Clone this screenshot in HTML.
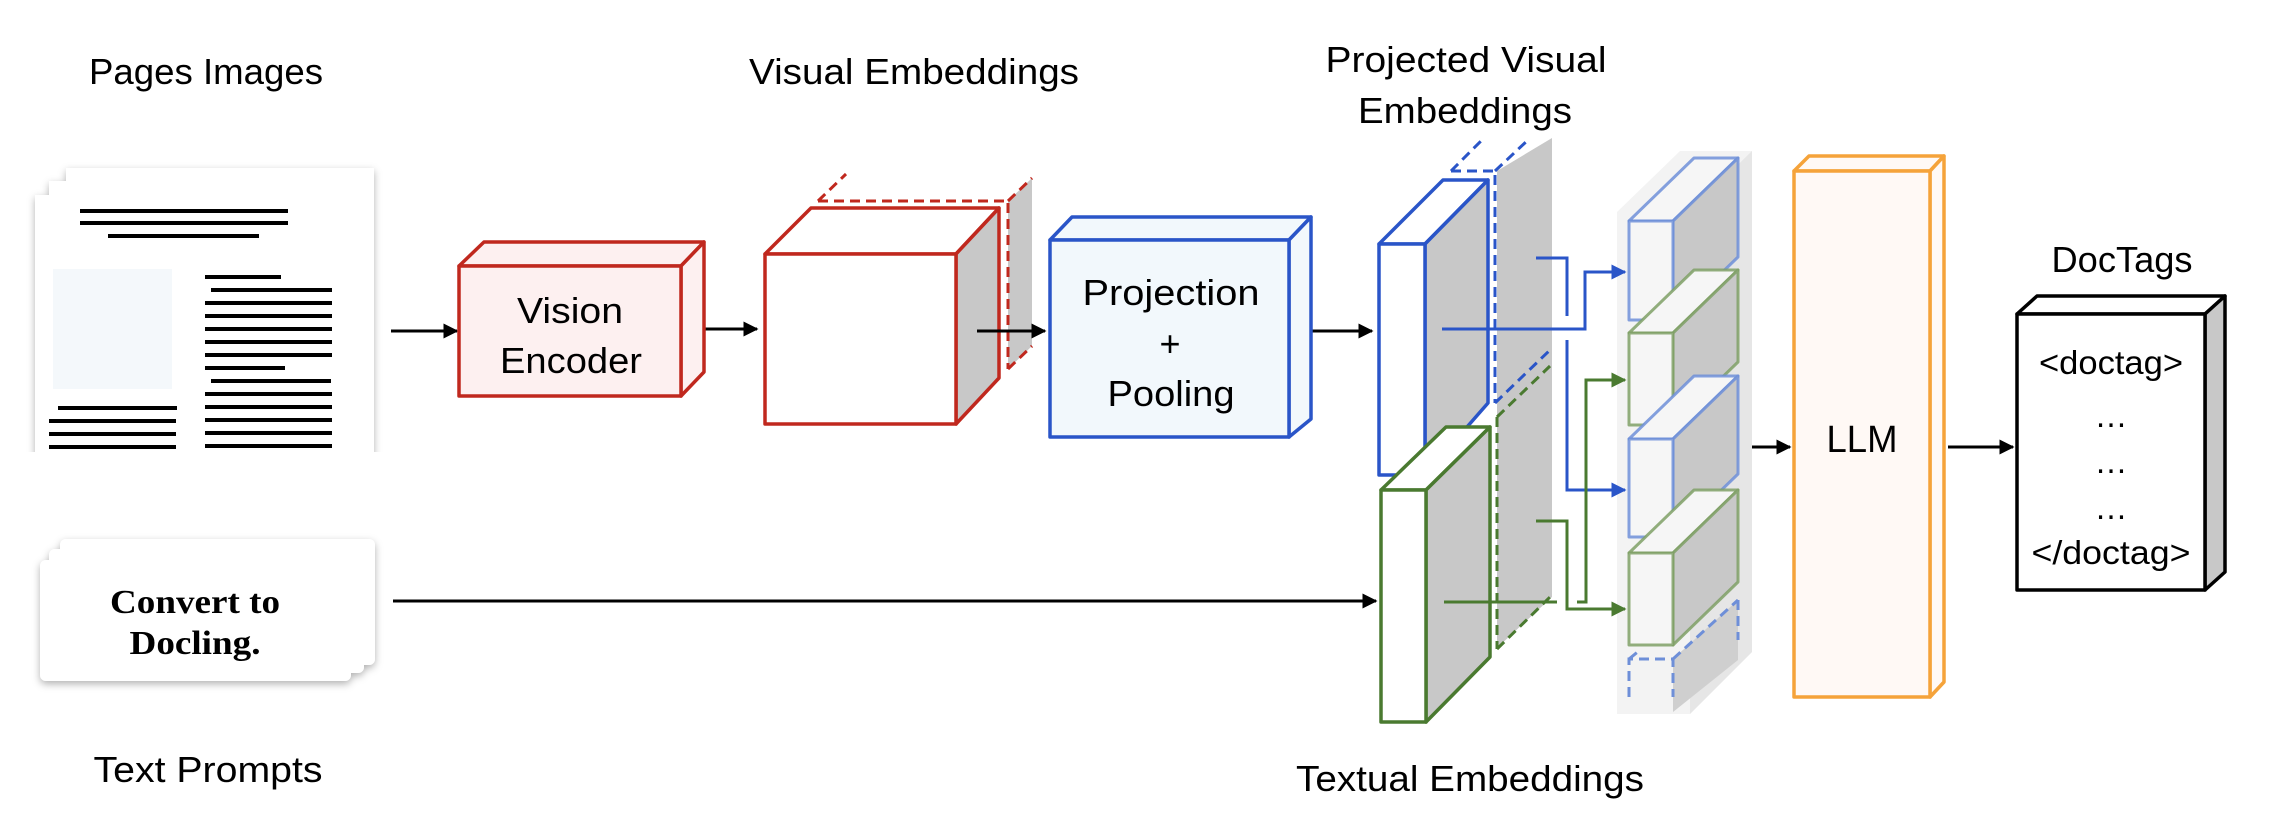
<!DOCTYPE html>
<html><head><meta charset="utf-8">
<style>
html,body{margin:0;padding:0;background:#fff;}
svg{display:block;}
text{font-family:"Liberation Sans",sans-serif;fill:#000;}
</style></head>
<body>
<svg width="2270" height="822" viewBox="0 0 2270 822" xmlns="http://www.w3.org/2000/svg">
<defs>
<marker id="ak" viewBox="0 0 10 10" refX="9" refY="5" markerWidth="5" markerHeight="5" orient="auto" markerUnits="strokeWidth"><path d="M0,0 L10,5 L0,10 z" fill="#000"/></marker>
<marker id="ab" viewBox="0 0 10 10" refX="9" refY="5" markerWidth="5" markerHeight="5" orient="auto" markerUnits="strokeWidth"><path d="M0,0 L10,5 L0,10 z" fill="#2a55c8"/></marker>
<marker id="ag" viewBox="0 0 10 10" refX="9" refY="5" markerWidth="5" markerHeight="5" orient="auto" markerUnits="strokeWidth"><path d="M0,0 L10,5 L0,10 z" fill="#4a7a30"/></marker>
<filter id="sh" x="-10%" y="-10%" width="120%" height="125%"><feDropShadow dx="0" dy="3" stdDeviation="4" flood-color="#000" flood-opacity="0.3"/></filter>
<clipPath id="pc"><rect x="0" y="0" width="400" height="452"/></clipPath>
</defs>

<g font-size="36">
<text x="206" y="84" text-anchor="middle" textLength="234" lengthAdjust="spacingAndGlyphs">Pages Images</text>
<text x="914" y="84" text-anchor="middle" textLength="330" lengthAdjust="spacingAndGlyphs">Visual Embeddings</text>
<text x="1466" y="72" text-anchor="middle" textLength="281" lengthAdjust="spacingAndGlyphs">Projected Visual</text>
<text x="1465" y="123" text-anchor="middle" textLength="214" lengthAdjust="spacingAndGlyphs">Embeddings</text>
<text x="208" y="782" text-anchor="middle" textLength="229" lengthAdjust="spacingAndGlyphs">Text Prompts</text>
<text x="1470" y="791" text-anchor="middle" textLength="348" lengthAdjust="spacingAndGlyphs">Textual Embeddings</text>
<text x="2122" y="272" text-anchor="middle" textLength="141" lengthAdjust="spacingAndGlyphs">DocTags</text>
</g>

<!-- pages -->
<g clip-path="url(#pc)" filter="url(#sh)">
<rect x="66" y="168" width="308" height="300" fill="#fff"/>
<rect x="49" y="181" width="309" height="300" fill="#fff"/>
<rect x="35" y="195" width="309" height="300" fill="#fff"/>
</g>
<g stroke="#000" stroke-width="4">
<line x1="80" y1="211" x2="288" y2="211"/><line x1="80" y1="223" x2="288" y2="223"/><line x1="108" y1="236" x2="259" y2="236"/>
<line x1="205" y1="277" x2="281" y2="277"/><line x1="211" y1="290" x2="332" y2="290"/>
<line x1="205" y1="303" x2="332" y2="303"/><line x1="205" y1="316" x2="332" y2="316"/><line x1="205" y1="329" x2="332" y2="329"/><line x1="205" y1="342" x2="332" y2="342"/><line x1="205" y1="355" x2="332" y2="355"/>
<line x1="205" y1="368" x2="285" y2="368"/><line x1="211" y1="381" x2="331" y2="381"/>
<line x1="205" y1="394" x2="332" y2="394"/><line x1="205" y1="407" x2="332" y2="407"/><line x1="205" y1="420" x2="332" y2="420"/><line x1="205" y1="433" x2="332" y2="433"/><line x1="205" y1="446" x2="332" y2="446"/>
<line x1="58" y1="408" x2="177" y2="408"/><line x1="49" y1="421" x2="176" y2="421"/><line x1="49" y1="434" x2="176" y2="434"/><line x1="49" y1="447" x2="176" y2="447"/>
</g>
<rect x="53" y="269" width="119" height="120" fill="#f4f8fb"/>

<!-- prompt cards -->
<g filter="url(#sh)">
<rect x="60" y="539" width="315" height="126" rx="6" fill="#fff"/>
<rect x="49" y="549" width="315" height="124" rx="6" fill="#fff"/>
<rect x="40" y="560" width="311" height="121" rx="6" fill="#fff"/>
</g>
<text x="195" y="613" font-size="34" font-weight="bold" text-anchor="middle" style="font-family:'Liberation Serif',serif" textLength="170" lengthAdjust="spacingAndGlyphs">Convert to</text>
<text x="195" y="654" font-size="34" font-weight="bold" text-anchor="middle" style="font-family:'Liberation Serif',serif" textLength="131" lengthAdjust="spacingAndGlyphs">Docling.</text>

<!-- arrows -->
<g stroke="#000" stroke-width="3" fill="none">
<line x1="391" y1="331" x2="457" y2="331" marker-end="url(#ak)"/>
<line x1="691" y1="329" x2="757" y2="329" marker-end="url(#ak)"/>
<line x1="1301" y1="331" x2="1372" y2="331" marker-end="url(#ak)"/>
<line x1="393" y1="601" x2="1376" y2="601" marker-end="url(#ak)"/>
<line x1="1721" y1="447" x2="1790" y2="447" marker-end="url(#ak)"/>
<line x1="1948" y1="447" x2="2013" y2="447" marker-end="url(#ak)"/>
</g>

<!-- vision encoder -->
<g stroke="#c0281e" stroke-width="3.5" fill="#fdf0f0" stroke-linejoin="round">
<polygon points="459,266 484,242 704,242 681,266"/>
<polygon points="681,266 704,242 704,372 681,396"/>
<rect x="459" y="266" width="222" height="130"/>
</g>
<text x="570" y="323" font-size="36" text-anchor="middle" textLength="106" lengthAdjust="spacingAndGlyphs">Vision</text>
<text x="571" y="373" font-size="36" text-anchor="middle" textLength="142" lengthAdjust="spacingAndGlyphs">Encoder</text>

<!-- visual embeddings cube -->
<polygon points="1008,201 1032,178 1032,346 1008,369" fill="#c8c8c8"/>
<g stroke="#c0281e" stroke-width="3" fill="none" stroke-dasharray="10,6">
<polyline points="818,201 1008,201 1008,369"/>
<line x1="818" y1="201" x2="846" y2="174"/>
<line x1="1008" y1="201" x2="1032" y2="178"/>
<line x1="1008" y1="369" x2="1032" y2="346"/>
</g>
<g stroke="#c0281e" stroke-width="3.5" stroke-linejoin="round">
<polygon points="765,254 811,208 999,208 956,254" fill="#fff"/>
<polygon points="956,254 999,208 999,378 956,424" fill="#c8c8c8"/>
<rect x="765" y="254" width="191" height="170" fill="#fff"/>
</g>
<line x1="977" y1="331" x2="1045" y2="331" stroke="#000" stroke-width="3" marker-end="url(#ak)"/>

<!-- projection -->
<g stroke="#2a55c8" stroke-width="3.5" fill="#f2f8fc" stroke-linejoin="round">
<polygon points="1050,240 1072,217 1311,217 1289,240"/>
<polygon points="1289,240 1311,217 1311,419 1289,437"/>
<rect x="1050" y="240" width="239" height="197"/>
</g>
<text x="1171" y="305" font-size="36" text-anchor="middle" textLength="177" lengthAdjust="spacingAndGlyphs">Projection</text>
<text x="1170" y="356" font-size="36" text-anchor="middle">+</text>
<text x="1171" y="406" font-size="36" text-anchor="middle" textLength="127" lengthAdjust="spacingAndGlyphs">Pooling</text>

<!-- big grey slab behind -->
<polygon points="1497,171 1552,138 1552,597 1497,648" fill="#c8c8c8"/>
<g stroke="#2a55c8" stroke-width="3" fill="none" stroke-dasharray="10,6">
<polyline points="1451,171 1495,171 1495,403"/>
<line x1="1451" y1="171" x2="1482" y2="140"/>
<line x1="1495" y1="171" x2="1528" y2="140"/>
<line x1="1495" y1="403" x2="1550" y2="350"/>
</g>
<g stroke="#4a7a30" stroke-width="3" fill="none" stroke-dasharray="10,6">
<line x1="1497" y1="417" x2="1497" y2="649"/>
<line x1="1497" y1="417" x2="1550" y2="366"/>
<line x1="1497" y1="649" x2="1550" y2="597"/>
</g>
<g stroke="#2a55c8" stroke-width="3.5" stroke-linejoin="round">
<polygon points="1379,244 1443,180 1488,180 1425,244" fill="#fff"/>
<polygon points="1425,244 1488,180 1488,403 1425,475" fill="#c8c8c8"/>
<rect x="1379" y="244" width="46" height="231" fill="#fff"/>
</g>
<g stroke="#4a7a30" stroke-width="3.5" stroke-linejoin="round">
<polygon points="1381,490 1446,427 1490,427 1426,490" fill="#fff"/>
<polygon points="1426,490 1490,427 1490,657 1426,722" fill="#c8c8c8"/>
<rect x="1381" y="490" width="45" height="232" fill="#fff"/>
</g>

<!-- token column -->
<polygon points="1617,212 1680,151 1752,151 1752,652 1690,714 1617,714" fill="#f3f3f3"/>
<polygon points="1690,212 1752,151 1752,652 1690,714" fill="#e6e6e6"/>
<g stroke-width="3" stroke-linejoin="round" stroke-opacity="0.85">
<g stroke="#6e8fd8"><polygon points="1629,221 1694,158 1738,158 1673,221" fill="#f6f6f6"/><polygon points="1673,221 1738,158 1738,257 1673,320" fill="#c8c8c8"/><rect x="1629" y="221" width="44" height="99" fill="#f6f6f6"/></g>
<g stroke="#7fa066"><polygon points="1629,333 1694,270 1738,270 1673,333" fill="#f6f6f6"/><polygon points="1673,333 1738,270 1738,362 1673,425" fill="#c8c8c8"/><rect x="1629" y="333" width="44" height="92" fill="#f6f6f6"/></g>
<g stroke="#6e8fd8"><polygon points="1629,439 1694,376 1738,376 1673,439" fill="#f6f6f6"/><polygon points="1673,439 1738,376 1738,474 1673,537" fill="#c8c8c8"/><rect x="1629" y="439" width="44" height="98" fill="#f6f6f6"/></g>
<g stroke="#7fa066"><polygon points="1629,553 1694,490 1738,490 1673,553" fill="#f6f6f6"/><polygon points="1673,553 1738,490 1738,582 1673,645" fill="#c8c8c8"/><rect x="1629" y="553" width="44" height="92" fill="#f6f6f6"/></g>
</g>
<polygon points="1673,659 1738,600 1738,660 1673,712" fill="#cfcfcf"/>
<g stroke="#6e8fd8" stroke-width="3" fill="none" stroke-dasharray="10,6">
<polyline points="1629,697 1629,659 1673,659 1673,697"/>
<line x1="1673" y1="659" x2="1738" y2="600"/>
<line x1="1738" y1="600" x2="1738" y2="640"/>
<line x1="1629" y1="659" x2="1640" y2="650"/>
</g>

<!-- connectors -->
<g stroke="#2a55c8" stroke-width="3" fill="none">
<polyline points="1442,329 1585,329 1585,272 1625,272" marker-end="url(#ab)"/>
<polyline points="1536,258 1567,258 1567,316"/>
<polyline points="1567,340 1567,490 1625,490" marker-end="url(#ab)"/>
</g>
<g stroke="#4a7a30" stroke-width="3" fill="none">
<line x1="1444" y1="602" x2="1557" y2="602"/>
<polyline points="1577,602 1586,602 1586,380 1625,380" marker-end="url(#ag)"/>
<polyline points="1536,521 1567,521 1567,609 1625,609" marker-end="url(#ag)"/>
</g>

<!-- LLM -->
<g stroke="#f5a33a" stroke-width="3.5" fill="#fff9f5" stroke-linejoin="round">
<polygon points="1794,171 1809,156 1944,156 1930,171"/>
<polygon points="1930,171 1944,156 1944,682 1930,697"/>
<rect x="1794" y="171" width="136" height="526"/>
</g>
<text x="1862" y="452" font-size="38" text-anchor="middle" textLength="71" lengthAdjust="spacingAndGlyphs">LLM</text>

<!-- DocTags -->
<g stroke="#000" stroke-width="3.5" stroke-linejoin="round">
<polygon points="2017,314 2037,296 2225,296 2205,314" fill="#fff"/>
<polygon points="2205,314 2225,296 2225,572 2205,590" fill="#c8c8c8"/>
<rect x="2017" y="314" width="188" height="276" fill="#fff"/>
</g>
<g font-size="33" text-anchor="middle">
<text x="2111" y="374" textLength="144" lengthAdjust="spacingAndGlyphs">&lt;doctag&gt;</text>
<text x="2111" y="427">…</text>
<text x="2111" y="473">…</text>
<text x="2111" y="519">…</text>
<text x="2111" y="564" textLength="159" lengthAdjust="spacingAndGlyphs">&lt;/doctag&gt;</text>
</g>
</svg>
</body></html>
